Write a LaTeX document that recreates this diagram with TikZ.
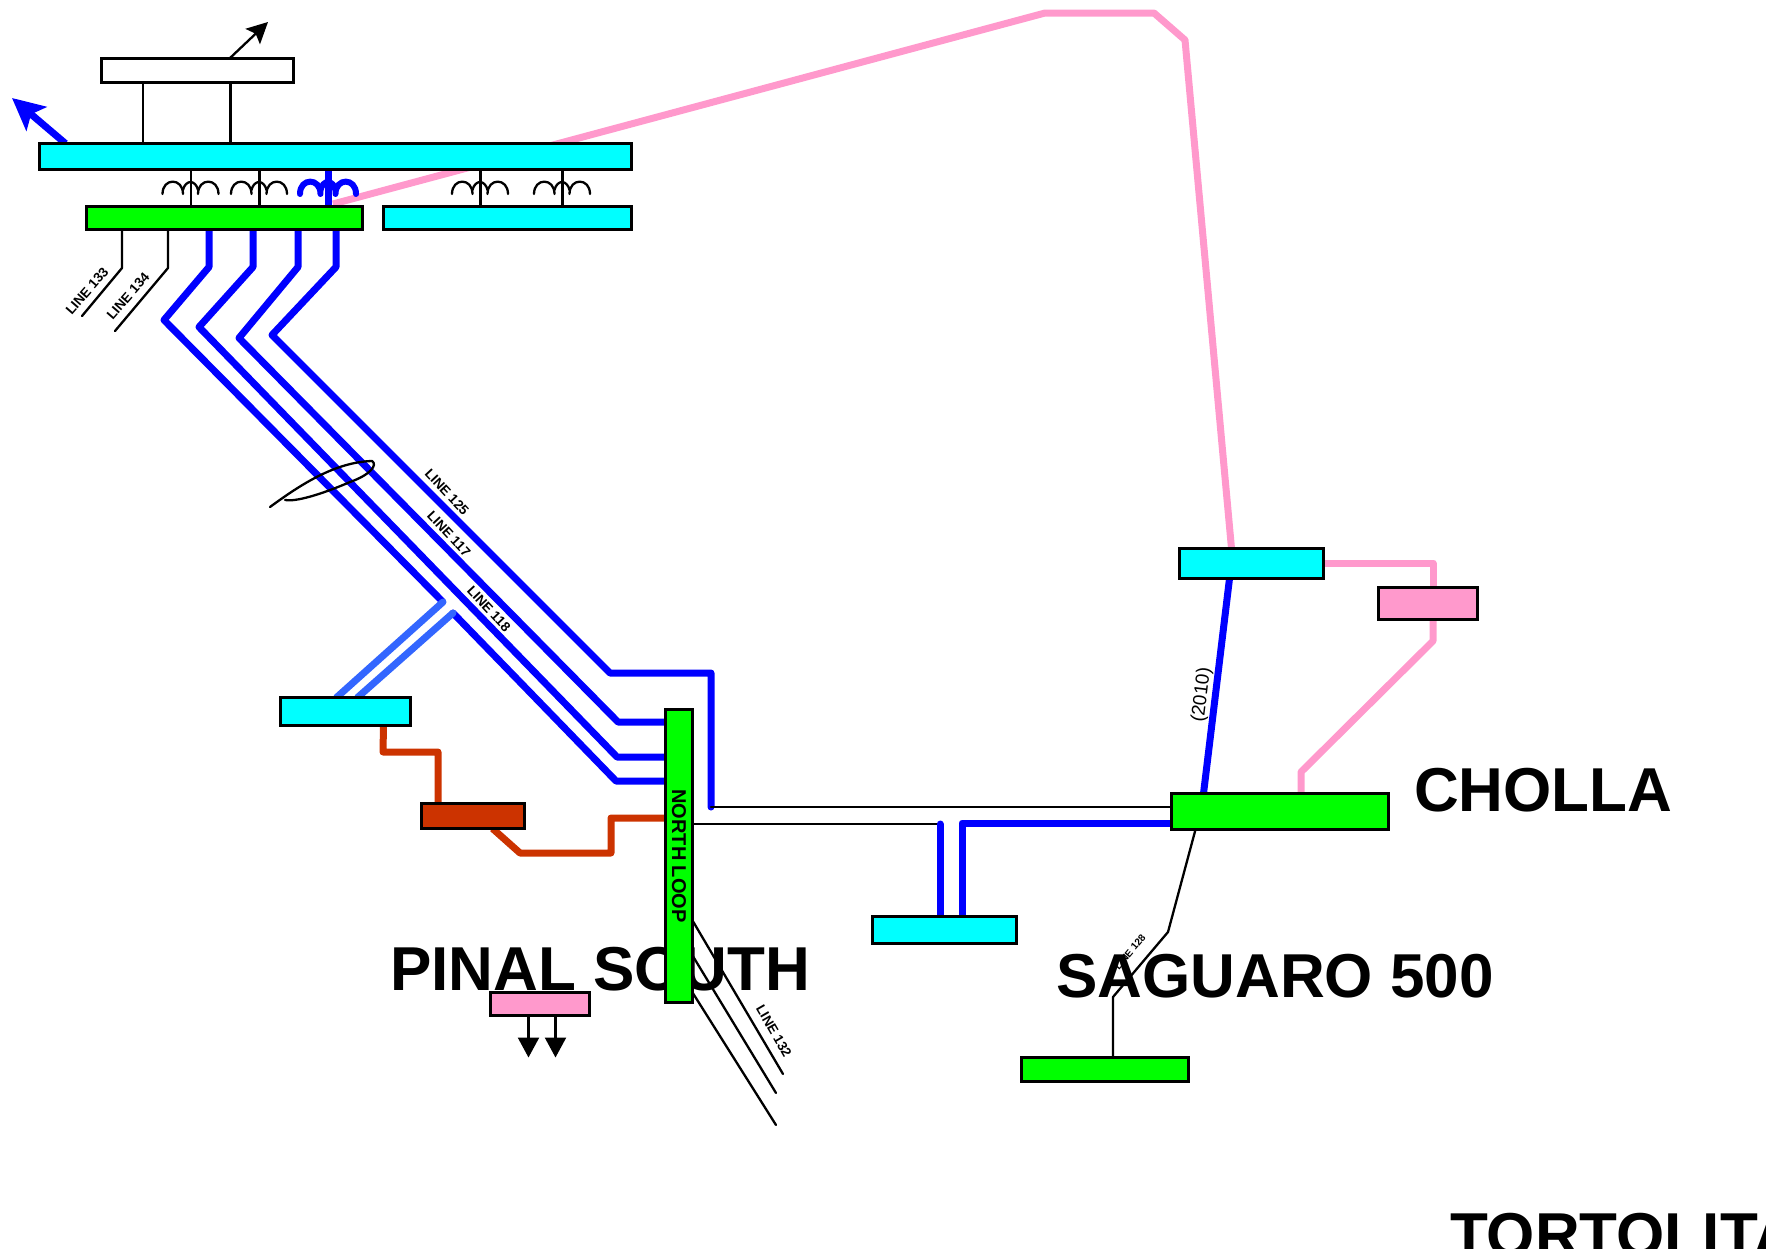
\documentclass[tikz,border=0pt]{standalone}
\usepackage{fontspec}
\setmainfont{Liberation Sans}
\usetikzlibrary{arrows.meta}
\definecolor{cyanb}{RGB}{0,255,255}
\definecolor{greenb}{RGB}{0,255,0}
\definecolor{pinkb}{RGB}{255,153,204}
\definecolor{orangeb}{RGB}{204,51,0}
\definecolor{blueb}{RGB}{0,0,255}
\definecolor{lightb}{RGB}{51,102,255}
\pgfdeclarelayer{names}
\pgfdeclarelayer{wires}
\pgfsetlayers{names,wires,main}
\tikzset{
  thin line/.style={draw=black,line width=2.3pt,line cap=round,line join=round},
  blue line/.style={draw=blueb,line width=7pt,line join=round,line cap=round},
  light line/.style={draw=lightb,line width=7pt,line cap=round},
  pink line/.style={draw=pinkb,line width=7pt,line join=round},
  orange line/.style={draw=orangeb,line width=7pt,line join=round},
  coil blue/.style={draw=blueb,line width=6pt,line cap=round},
  busbox/.style={draw=black,line width=2.7pt,inner sep=0pt,outer sep=0pt},
  station/.style={font=\bfseries\fontsize{62}{62}\selectfont,anchor=base west,inner sep=0pt},
  linelabel/.style={font=\bfseries\fontsize{13.5}{13.5}\selectfont,inner sep=0pt},
}
% box from its corners: name, x1, y1, x2, y2, fill
\newcommand{\busrect}[6]{%
  \pgfmathsetmacro{\bw}{#4-#2-1}\pgfmathsetmacro{\bh}{#5-#3-1}%
  \pgfmathsetmacro{\bx}{(#2+#4)/2}\pgfmathsetmacro{\by}{(#3+#5)/2}%
  \node[busbox,fill=#6,minimum width=\bw pt,minimum height=\bh pt] (#1) at (\bx,\by) {};}
% transformer windings round a vertical tie at x = #1
\newcommand{\coils}[2]{%
  \draw[#2] (#1-28,194) .. controls (#1-28,177.5) and (#1-7.5,177.5) .. (#1-7.5,194);
  \draw[#2] (#1+7.5,194) .. controls (#1+7.5,177.5) and (#1+28,177.5) .. (#1+28,194);
  \draw[#2] (#1-7.5,190) .. controls (#1-6.5,185) and (#1-3,182) .. (#1,182);
  \draw[#2] (#1+7.5,190) .. controls (#1+6.5,185) and (#1+3,182) .. (#1,182);}
\begin{document}
\begin{tikzpicture}[x=1pt,y=-1pt]
\useasboundingbox (0,0) rectangle (1766,1248);

% bend points
\foreach \n/\x/\y in {
  a1/209/267, a2/164/320, a3/443/602,
  b1/253/267, b2/199/327, b3/617/757,
  c1/298/267, c2/239/338, c3/618/722,
  d1/336/267, d2/272/335, d3/610/673, d4/711/673, d5/711/807,
  e1/453/613, e2/616/781,
  l1/122/268, l2/82/316, m1/168/268, m2/115/331,
  p0/333/204, p1/1045/13, p2/1154/13, p3/1185/40,
  q1/1433/563, r1/1433/641, r2/1301/772,
  o1/383/752, o2/438/752, o3/520/853, o4/611/853, o5/611/818,
  k1/1168/932, k2/1113/997,
  n1/783/1074, n2/776/1093, n3/776/1125,
  u1/940/824, u2/962/823,
  w2/12/98, w4/268/22}
  {\coordinate (\n) at (\x,\y);}

% boxes
\busrect{top}{39}{143}{632}{170}{cyanb}
\busrect{wht}{101}{58}{294}{83}{white}
\busrect{grn}{86}{206}{363}{230}{greenb}
\busrect{cy2}{383}{206}{632}{230}{cyanb}
\busrect{cy3}{1179}{548}{1324}{579}{cyanb}
\busrect{pk1}{1378}{587}{1478}{620}{pinkb}
\busrect{cho}{1171}{793}{1389}{830}{greenb}
\busrect{cy4}{280}{697}{411}{726}{cyanb}
\busrect{brn}{421}{803}{525}{829}{orangeb}
\busrect{nlp}{665}{709}{693}{1003}{greenb}
\busrect{cy5}{872}{916}{1017}{944}{cyanb}
\busrect{gr2}{1021}{1057}{1189}{1082}{greenb}
\busrect{pk2}{490}{992}{590}{1016}{pinkb}

% station names lie under everything else
\begin{pgfonlayer}{names}
\node[station] (pinal) at (390,990) {PINAL SOUTH};
\node[station] (saguaro) at (1056,997) {SAGUARO 500};
\node[station] (cholla) at (1414,811) {CHOLLA};
\node[station] (tortolita) at (1450,1256) {TORTOLITA};
\end{pgfonlayer}

% connectors lie under the boxes
\begin{pgfonlayer}{wires}
\draw[pink line] (p0) -- (p1) -- (p2) -- (p3) -- ([xshift=52pt]cy3.north west);
\draw[pink line] (q1 -| cy3.east) -- (q1) -- (q1 |- pk1.north);
\draw[pink line] (r1 |- pk1.south) -- (r1) -- (r2) -- (r2 |- cho.north);
\draw[blue line,line cap=butt] ([xshift=50pt]cy3.south west) -- ([xshift=32pt]cho.north west);

\draw[blue line,line cap=butt] (a1 |- grn.south) -- (a1) -- (a2) -- (a3);
\draw[blue line,line cap=butt] (b1 |- grn.south) -- (b1) -- (b2) -- (b3) -- (b3 -| nlp.west);
\draw[blue line,line cap=butt] (c1 |- grn.south) -- (c1) -- (c2) -- (c3) -- (c3 -| nlp.west);
\draw[blue line] (d1 |- grn.south) -- (d1) -- (d2) -- (d3) -- (d4) -- (d5);
\draw[blue line] (e1) -- (e2) -- (e2 -| nlp.west);
\draw[light line] (a3) -- ([xshift=56pt]cy4.north west);
\draw[light line] (e1) -- ([xshift=77pt]cy4.north west);

\draw[orange line] ([xshift=103pt]cy4.south west) -- (o1) -- (o2) -- (o2 |- brn.north);
\draw[orange line] ([xshift=71pt]brn.south west) -- (o3) -- (o4) -- (o5) -- (o5 -| nlp.west);

\draw[thin line] (d5) -- (d5 -| cho.west);
\draw[thin line] (u1 -| nlp.east) -- (u1);
\draw[blue line] (u1 |- cy5.north) -- (u1);
\draw[blue line] (u2 |- cy5.north) -- (u2) -- (u2 -| cho.west);

\draw[-{Stealth[length=32pt,width=31pt,inset=7pt]},draw=blueb,fill=blueb,line width=7pt] ([xshift=26pt]top.north west) -- (w2);
\draw[-{Stealth[length=21pt,width=21pt,inset=4pt]},line width=2.3pt] ([xshift=128pt]wht.north west) -- (w4);

\draw[thin line] ([xshift=41.5pt]wht.south west) -- ([xshift=103.5pt]top.north west);
\draw[thin line] ([xshift=129pt]wht.south west) -- ([xshift=191pt]top.north west);

\draw[thin line] ([xshift=151.5pt]top.south west) -- ([xshift=104.5pt]grn.north west);
\draw[thin line] ([xshift=220pt]top.south west) -- ([xshift=173pt]grn.north west);
\draw[blue line,line cap=butt,line width=7.5pt] ([xshift=289pt]top.south west) -- ([xshift=242pt]grn.north west);
\draw[thin line] ([xshift=441pt]top.south west) -- ([xshift=97pt]cy2.north west);
\draw[thin line] ([xshift=523pt]top.south west) -- ([xshift=179pt]cy2.north west);
\coils{190.5}{thin line}
\coils{259}{thin line}
\coils{328}{coil blue}
\coils{480}{thin line}
\coils{562}{thin line}

\draw[thin line] (l1 |- grn.south) -- (l1) -- (l2);
\draw[thin line] (m1 |- grn.south) -- (m1) -- (m2);

\draw[thin line] (270,507) .. controls (300,485) and (335,462) .. (372,461) .. controls (378,465) and (370,475) .. (350,482) .. controls (320,495) and (295,502) .. (285,500);

\draw[thin line] ([yshift=-211pt]nlp.north east) -- (n1);
\draw[thin line] ([yshift=-246pt]nlp.north east) -- (n2);
\draw[thin line] ([yshift=-283pt]nlp.north east) -- (n3);

\draw[thin line] ([xshift=24pt]cho.south west) -- (k1) -- (k2) -- (k2 |- gr2.north);

\draw[-{Stealth[length=20pt,width=21pt,inset=0pt]},line width=2.3pt] ([xshift=38pt]pk2.south west) -- ++(0,42);
\draw[-{Stealth[length=20pt,width=21pt,inset=0pt]},line width=2.3pt] ([xshift=65pt]pk2.south west) -- ++(0,42);
\end{pgfonlayer}

% labels
\node[font=\bfseries\fontsize{20}{20}\selectfont,rotate=-90,inner sep=0pt] (nl) at (679,856) {NORTH LOOP};
\node[linelabel,rotate=49] (t133) at (87,291) {LINE 133};
\node[linelabel,rotate=49] (t134) at (128,296) {LINE 134};
\node[linelabel,rotate=-47] (t125) at (447,492) {LINE 125};
\node[linelabel,rotate=-47] (t117) at (449,534) {LINE 117};
\node[linelabel,rotate=-47] (t118) at (489,609) {LINE 118};
\node[linelabel,rotate=-60] (t132) at (774,1031) {LINE 132};
\node[font=\bfseries\fontsize{10}{10}\selectfont,inner sep=0pt,rotate=50] (t128) at (1130,952) {LINE 128};
\node[font=\fontsize{19}{19}\selectfont,inner sep=0pt,rotate=83] (t2010) at (1202,695) {(2010)};
\end{tikzpicture}
\end{document}
